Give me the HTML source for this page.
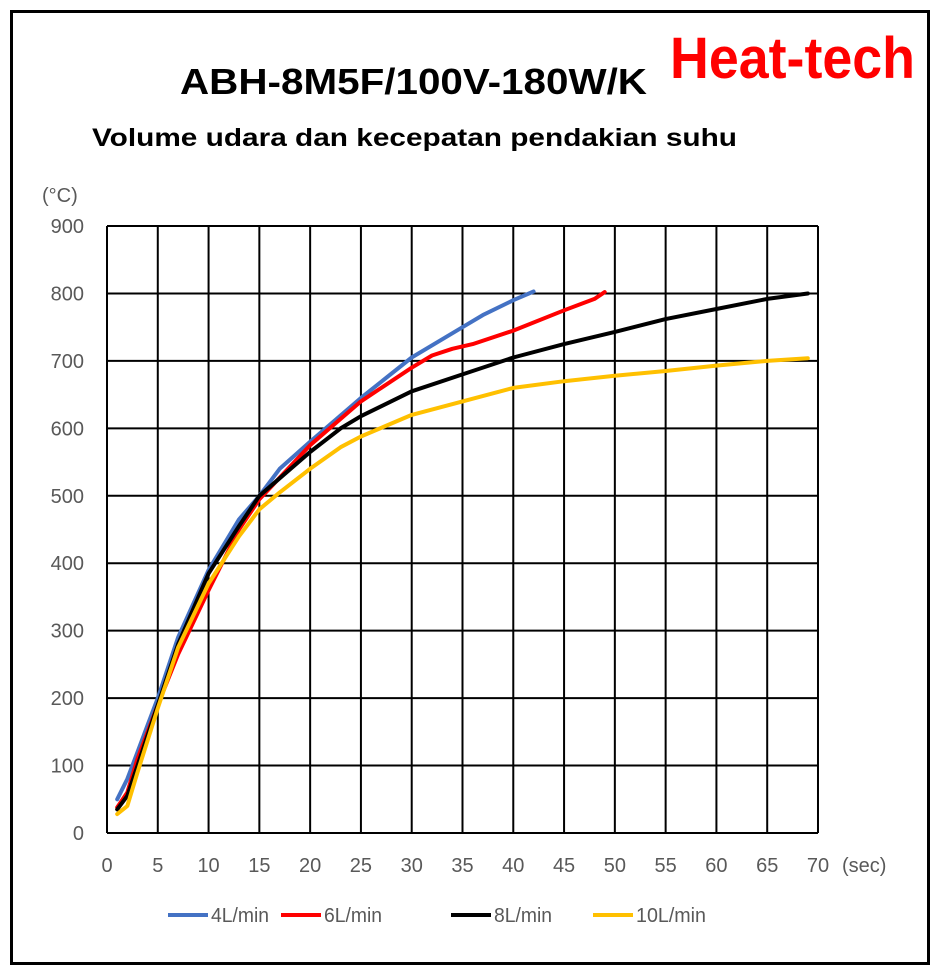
<!DOCTYPE html>
<html><head><meta charset="utf-8"><style>
body{margin:0;background:#fff;width:938px;height:974px;overflow:hidden;font-family:"Liberation Sans","Noto Sans CJK JP",sans-serif}
</style></head><body>
<svg width="938" height="974" xmlns="http://www.w3.org/2000/svg" font-family="Liberation Sans, Noto Sans CJK JP, sans-serif">
<rect x="11.5" y="11.5" width="917" height="952" fill="none" stroke="#000" stroke-width="3"/>
<text x="180" y="94" font-size="36" font-weight="bold" textLength="467" lengthAdjust="spacingAndGlyphs">ABH-8M5F/100V-180W/K</text>
<text x="670" y="78" font-size="58" font-weight="bold" fill="#ff0000" textLength="245" lengthAdjust="spacingAndGlyphs">Heat-tech</text>
<text x="92" y="146" font-size="25" font-weight="bold" textLength="645" lengthAdjust="spacingAndGlyphs">Volume udara dan kecepatan pendakian suhu</text>
<text x="42" y="202" font-size="20" fill="#595959">(°C)</text>
<g id="grid" stroke="#000" stroke-width="2" fill="none"></g>
<g id="ylab" font-size="20" fill="#595959" text-anchor="end"></g>
<g id="xlab" font-size="20" fill="#595959" text-anchor="middle"></g>
<text x="842" y="872" font-size="20" fill="#595959">(sec)</text>
<g id="series" fill="none" stroke-width="4" stroke-linejoin="round" stroke-linecap="round"></g>
<g font-size="20" fill="#595959">
<line x1="168" y1="915" x2="208" y2="915" stroke="#4472c4" stroke-width="4"/><text x="211" y="922" textLength="58" lengthAdjust="spacingAndGlyphs">4L/min</text>
<line x1="281" y1="915" x2="321" y2="915" stroke="#ff0000" stroke-width="4"/><text x="324" y="922" textLength="58" lengthAdjust="spacingAndGlyphs">6L/min</text>
<line x1="451" y1="915" x2="491" y2="915" stroke="#000" stroke-width="4"/><text x="494" y="922" textLength="58" lengthAdjust="spacingAndGlyphs">8L/min</text>
<line x1="593" y1="915" x2="633" y2="915" stroke="#ffc000" stroke-width="4"/><text x="636" y="922" textLength="70" lengthAdjust="spacingAndGlyphs">10L/min</text>
</g>
</svg>
<script>
var X=function(s){return 107+s*10.157},Y=function(v){return 833-v*0.6744};
var ns="http://www.w3.org/2000/svg",g=document.getElementById('grid'),yl=document.getElementById('ylab'),xl=document.getElementById('xlab');
function el(t,a,p,txt){var e=document.createElementNS(ns,t);for(var k in a)e.setAttribute(k,a[k]);if(txt!=null)e.textContent=txt;p.appendChild(e);}
for(var v=0;v<=900;v+=100){el('line',{x1:107,x2:X(70),y1:Y(v),y2:Y(v)},g);el('text',{x:84,y:Y(v)+7},yl,v);}
for(var s=0;s<=70;s+=5){el('line',{x1:X(s),x2:X(s),y1:Y(0),y2:Y(900)},g);el('text',{x:X(s),y:872},xl,s);}
var D={
"#4472c4":[[1,50],[2,80],[3,120],[4,160],[5,200],[7,290],[10,390],[13,465],[15,500],[17,540],[20,580],[25,645],[30,705],[35,750],[37,768],[40,790],[42,803]],
"#ff0000":[[1,38],[2,60],[3,110],[5,190],[7,265],[10,360],[13,450],[15,495],[20,575],[25,640],[30,690],[32,708],[34,718],[36,725],[40,745],[45,775],[48,792],[49,802]],
"#000000":[[1,35],[2,55],[3,100],[5,190],[7,280],[10,385],[13,455],[15,500],[20,565],[23,600],[25,618],[30,655],[35,680],[40,705],[45,725],[50,743],[55,762],[60,777],[65,792],[69,800]],
"#ffc000":[[1,28],[2,40],[3,90],[5,185],[7,275],[10,370],[13,440],[15,480],[17,505],[20,540],[23,572],[25,588],[30,620],[35,640],[40,660],[45,670],[50,678],[55,685],[60,693],[65,700],[69,704]]};
var sg=document.getElementById('series');
for(var c in D){var d=D[c].map(function(p,i){return (i?'L':'M')+X(p[0]).toFixed(1)+' '+Y(p[1]).toFixed(1)}).join('');el('path',{d:d,stroke:c},sg);}
</script>
</body></html>
